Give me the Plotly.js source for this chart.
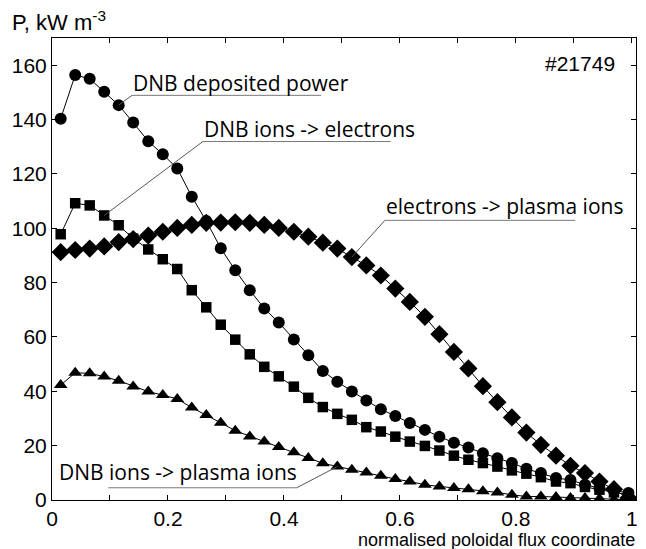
<!DOCTYPE html>
<html>
<head>
<meta charset="utf-8">
<script src="https://cdn.plot.ly/plotly-3.0.1.min.js"></script>
<style>html,body{margin:0;padding:0;background:#fff;}#chart{width:646px;height:549px;}</style>
</head>
<body>
<div id="chart"></div>
<script>
// normalised poloidal flux coordinate
const psi = [0.015,0.040,0.065,0.090,0.115,0.140,0.166,0.191,0.216,0.241,
             0.266,0.291,0.316,0.341,0.366,0.391,0.417,0.442,0.467,0.492,
             0.517,0.542,0.567,0.592,0.617,0.643,0.668,0.693,0.718,0.743,
             0.768,0.793,0.818,0.843,0.869,0.894,0.919,0.944,0.969,0.994];
// DNB deposited power (circles)
const deposited = [140.3,156.4,155.0,150.2,145.3,138.9,132.0,127.2,122.0,111.6,
                   102.7,92.6,84.5,77.2,70.5,65.3,59.1,53.3,47.5,43.5,
                   39.9,36.6,33.4,30.9,28.3,25.8,23.3,21.1,19.3,17.2,
                   15.4,13.6,11.5,9.9,8.1,7.4,5.6,4.4,3.5,2.6];
// DNB ions -> electrons (squares)
const ionsToElectrons = [97.8,109.2,108.4,104.7,101.1,96.2,92.2,88.6,85.0,77.2,
                         70.9,64.5,59.0,53.6,49.0,45.5,41.7,37.6,34.2,31.7,
                         29.5,26.8,25.2,23.3,21.5,19.9,18.2,16.3,14.8,13.6,
                         12.3,10.9,9.7,8.4,6.8,6.2,4.8,3.8,2.8,1.9];
// electrons -> plasma ions (diamonds)
const electronsToPlasma = [91.2,92.0,92.5,93.3,94.9,96.0,97.3,98.7,100.1,101.2,
                           102.0,102.1,102.2,102.0,101.2,100.1,98.7,96.9,94.7,92.5,
                           89.4,86.3,82.6,77.8,72.9,67.4,61.0,54.5,48.4,41.9,
                           36.0,30.4,24.8,20.3,16.3,12.6,9.9,6.8,4.0,0.7];
// DNB ions -> plasma ions (triangles)
const ionsToPlasma = [42.3,46.8,46.6,45.4,43.9,41.8,39.9,38.6,37.2,34.0,
                      31.3,28.4,25.5,23.4,21.5,19.5,17.6,15.5,13.5,12.3,
                      11.1,10.1,8.9,7.7,6.8,5.6,5.0,4.4,4.0,3.2,
                      2.8,1.9,1.3,1.3,1.1,0.7,0.7,0.5,0.1,0.1];

const xTickVals = [0,0.1,0.2,0.3,0.4,0.5,0.6,0.7,0.8,0.9,1];
const xTickText = ["0"," ","0.2"," ","0.4"," ","0.6"," ","0.8"," ","1"];
const yTickVals = [0,20,40,60,80,100,120,140,160];

const labelFont = {family: "Open Sans, Noto Sans, sans-serif", size: 21, color: "#000"};
const tickFont = {family: "Liberation Sans, Arial, sans-serif", size: 21, color: "#000"};

function series(y, symbol, size) {
  return {
    x: psi, y: y, type: "scatter", mode: "lines+markers",
    line: {color: "#000", width: 1},
    marker: {symbol: symbol, size: size, color: "#000", line: {width: 0}},
    showlegend: false, hoverinfo: "x+y"
  };
}

const data = [
  series(deposited, "circle", 12),
  series(ionsToElectrons, "square", 10.5),
  series(electronsToPlasma, "diamond", 14),
  series(ionsToPlasma, "triangle-up", 12)
];

// label: [text, textX, textY, underlineX0, underlineX1, underlineY, leader target x, y]
const labels = [
  ["DNB deposited power", 0.136, 153.6, 0.138, 0.464, 148.9, psi[4], deposited[4]],
  ["DNB ions -> electrons", 0.258, 136.4, 0.260, 0.584, 131.9, psi[3], ionsToElectrons[3]],
  ["electrons -> plasma ions", 0.572, 108.1, 0.574, 0.902, 102.9, psi[20], electronsToPlasma[20]],
  ["DNB ions -> plasma ions", 0.008, 10.4, 0.097, 0.422, 4.5, psi[19], ionsToPlasma[19]]
];

const annotations = [];
const shapes = [];
labels.forEach((l, i) => {
  annotations.push({
    text: l[0], x: l[1], y: l[2], xref: "x", yref: "y",
    xanchor: "left", yanchor: "middle", showarrow: false, font: labelFont
  });
  shapes.push({type: "line", xref: "x", yref: "y", x0: l[3], x1: l[4], y0: l[5], y1: l[5],
               line: {color: "#777", width: 1}});
  const sx = (i === 3) ? l[4] : l[3];
  shapes.push({type: "line", xref: "x", yref: "y", x0: sx, y0: l[5], x1: l[6], y1: l[7],
               line: {color: "#555", width: 1}});
});

annotations.push({
  text: "#21749", x: 0.974, y: 160.5, xref: "x", yref: "y",
  xanchor: "right", yanchor: "middle", showarrow: false,
  font: {family: "Liberation Sans, Arial, sans-serif", size: 21, color: "#000"}
});
annotations.push({
  text: "P, kW m<sup>-3</sup>", x: -0.072, y: 1.0, xref: "paper", yref: "paper",
  xanchor: "left", yanchor: "bottom", yshift: 1, showarrow: false,
  font: {family: "Liberation Sans, Arial, sans-serif", size: 22, color: "#000"}
});
annotations.push({
  text: "normalised poloidal flux coordinate", x: 1.002, y: 0, xref: "paper", yref: "paper",
  xanchor: "right", yanchor: "top", yshift: -28, showarrow: false,
  font: {family: "Liberation Sans, Arial, sans-serif", size: 18, color: "#000"}
});

const axisCommon = {
  showline: true, mirror: "ticks", linecolor: "#000", linewidth: 1,
  ticks: "inside", ticklen: 5, tickcolor: "#000", tickwidth: 1,
  showgrid: false, zeroline: false, tickfont: tickFont
};

const layout = {
  width: 646, height: 549,
  margin: {l: 52, r: 10, t: 38, b: 49},
  paper_bgcolor: "#fff", plot_bgcolor: "#fff",
  xaxis: Object.assign({}, axisCommon, {range: [0, 1.007], tickmode: "array",
    tickvals: xTickVals, ticktext: xTickText}),
  yaxis: Object.assign({}, axisCommon, {range: [0, 170], tickmode: "array",
    tickvals: yTickVals}),
  annotations: annotations,
  shapes: shapes
};

Plotly.newPlot("chart", data, layout, {displayModeBar: false, staticPlot: true});
</script>
</body>
</html>
